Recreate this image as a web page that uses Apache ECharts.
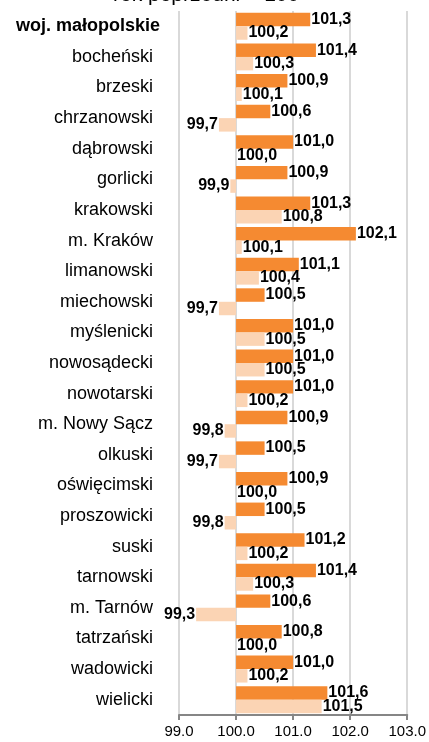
<!DOCTYPE html>
<html>
<head>
<meta charset="utf-8">
<script src="https://cdn.jsdelivr.net/npm/echarts@6/dist/echarts.min.js"></script>
<style>
html, body { margin: 0; padding: 0; background: #fff; }
#main { width: 429px; height: 742px; }
</style>
</head>
<body>
<div id="main"></div>
<script>
// powiaty (kolejność od góry)
var categories = ["woj. małopolskie", "bocheński", "brzeski", "chrzanowski", "dąbrowski", "gorlicki",
  "krakowski", "m. Kraków", "limanowski", "miechowski", "myślenicki", "nowosądecki", "nowotarski",
  "m. Nowy Sącz", "olkuski", "oświęcimski", "proszowicki", "suski", "tarnowski", "m. Tarnów",
  "tatrzański", "wadowicki", "wielicki"];
// seria ciemna (górny słupek)
var valuesDark = [101.3, 101.4, 100.9, 100.6, 101.0, 100.9, 101.3, 102.1, 101.1, 100.5, 101.0, 101.0,
  101.0, 100.9, 100.5, 100.9, 100.5, 101.2, 101.4, 100.6, 100.8, 101.0, 101.6];
// seria jasna (dolny słupek)
var valuesLight = [100.2, 100.3, 100.1, 99.7, 100.0, 99.9, 100.8, 100.1, 100.4, 99.7, 100.5, 100.5,
  100.2, 99.8, 99.7, 100.0, 99.8, 100.2, 100.3, 99.3, 100.0, 100.2, 101.5];
var axisTicks = [99.0, 100.0, 101.0, 102.0, 103.0];
var base = 100; // słupki rysowane od 100

var chart = echarts.init(document.getElementById('main'));
var FONT = 'Liberation Sans, Arial, sans-serif';

function toData(arr) {
  return arr.map(function (v) {
    var d = Math.round((v - base) * 10) / 10;
    return {
      value: d,
      label: { position: d < 0 ? 'left' : 'right' }
    };
  });
}
function fmt(arr) {
  return function (p) { return arr[p.dataIndex].toFixed(1).replace('.', ','); };
}

var labelStyle = {
  show: true,
  fontFamily: FONT,
  fontWeight: 'bold',
  fontSize: 16,
  color: '#000',
  distance: 1
};

chart.setOption({
  animation: false,
  graphic: [{
    type: 'text',
    x: 113,
    y: -5,
    style: { text: 'rok poprzedni = 100', font: '21px ' + FONT, fill: '#000', verticalAlign: 'middle' }
  }],
  grid: { left: 179, right: 17, top: 11, bottom: 27, containLabel: false },
  xAxis: {
    type: 'value',
    min: axisTicks[0] - base,
    max: axisTicks[axisTicks.length - 1] - base,
    interval: 1,
    axisLine: { show: true, onZero: false, lineStyle: { color: '#868686', width: 2 } },
    axisTick: { show: true, length: 5, lineStyle: { color: '#868686', width: 2 } },
    splitLine: { show: true, lineStyle: { color: '#d9d9d9', width: 2 } },
    axisLabel: {
      margin: 9,
      fontFamily: FONT,
      fontSize: 15,
      color: '#000',
      formatter: function (v) { return (v + base).toFixed(1); }
    }
  },
  yAxis: {
    type: 'category',
    data: categories,
    inverse: true,
    axisLine: { show: false },
    axisTick: { show: false },
    axisLabel: {
      margin: 26,
      fontFamily: FONT,
      fontSize: 18,
      color: '#000',
      formatter: function (v, i) { return i === 0 ? '{b|' + v + '}' : v; },
      rich: { b: { fontWeight: 'bold', fontSize: 18, fontFamily: FONT, color: '#000', padding: [0, -7, 0, 0] } }
    }
  },
  series: [{
    type: 'bar',
    data: toData(valuesDark),
    itemStyle: { color: '#f58a31' },
    barGap: '0%',
    barCategoryGap: '12%',
    label: Object.assign({}, labelStyle, { formatter: fmt(valuesDark) }),
    z: 3
  }, {
    type: 'bar',
    data: toData(valuesLight),
    itemStyle: { color: '#fbd4b4' },
    label: Object.assign({}, labelStyle, { formatter: fmt(valuesLight) }),
    z: 3
  }]
});
</script>
</body>
</html>
